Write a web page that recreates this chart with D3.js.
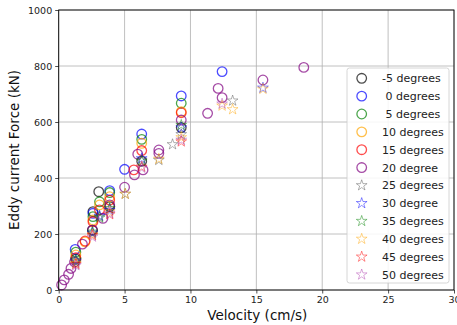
<!DOCTYPE html>
<html><head><meta charset="utf-8">
<script src="https://d3js.org/d3.v7.min.js"></script>
<style>body{margin:0;background:#fff}svg{display:block}text{font-family:"DejaVu Sans",sans-serif}</style>
</head><body><svg id="c" width="457" height="325"></svg>
<script>
const xTicks=[0,5,10,15,20,25,30];
const yTicks=[0,200,400,600,800,1000];
const seriesNames=["-5 degrees"," 0 degrees"," 5 degrees","10 degrees","15 degrees","20 degree","25 degrees","30 degree","35 degrees","40 degrees","45 degrees","50 degrees"];
const seriesColors=["#000000","#0000ff","#008000","#ffa500","#ff0000","#800080","#555555","#0000ff","#008000","#ffa500","#ff0000","#b040b0"];
const seriesShapes=["circle","circle","circle","circle","circle","circle","star","star","star","star","star","star"];
const sM5=[[1.3,110],[2.56,214],[2.6,280],[3.04,351],[3.87,298],[6.3,460],[9.3,580]];
const s0=[[1.25,145],[2.6,274],[3.87,355],[5.0,431],[6.3,557],[9.3,693],[12.4,780]];
const s5=[[1.3,135],[2.6,262],[3.1,315],[3.87,348],[6.3,538],[9.3,667]];
const s10=[[1.3,125],[2.0,172],[2.6,250],[3.1,304],[3.87,333],[6.3,524],[9.3,637]];
const s15=[[1.3,115],[2.0,175],[2.6,244],[3.1,286],[3.87,321],[5.7,429],[6.3,498],[9.3,633]];
const s20=[[0.22,18],[0.42,36],[0.75,56],[0.93,77],[1.2,100],[1.8,164],[2.56,214],[3.36,256],[3.87,304],[5.0,367],[5.75,411],[6.0,485],[6.4,429],[7.6,500],[7.6,488],[9.3,607],[11.3,631],[12.1,720],[12.4,687],[15.5,750],[18.6,795]];
const s25=[[1.3,100],[2.56,202],[3.1,262],[3.87,290],[5.05,343],[6.3,464],[7.6,464],[8.64,520],[9.3,556],[13.2,676]];
const s30=[[1.3,105],[2.56,205],[3.1,265],[3.87,285],[6.3,470],[9.3,580],[15.5,722]];
const s35=[[1.3,108],[2.56,208],[3.1,258],[3.87,292],[6.3,460],[9.3,589]];
const s40=[[1.3,95],[2.56,198],[3.87,280],[5.05,343],[7.6,468],[9.3,545],[12.4,658],[13.2,645],[15.5,718]];
const s45=[[1.3,92],[2.56,195],[3.87,270],[6.3,440],[9.3,530]];
const s50=[[1.3,88],[2.56,190],[3.87,274],[6.3,436],[9.3,536],[12.4,665]];
const seriesData=[sM5,s0,s5,s10,s15,s20,s25,s30,s35,s40,s45,s50];

const svg=d3.select("#c");
const L=58.7,R=454,T=10,B=290;
const x=d3.scaleLinear().domain([0,30]).range([L,R]);
const y=d3.scaleLinear().domain([0,1000]).range([B,T]);

svg.append("g").selectAll("line").data(xTicks).join("line")
 .attr("x1",d=>x(d)).attr("x2",d=>x(d)).attr("y1",T).attr("y2",B)
 .attr("stroke","#b0b0b0").attr("stroke-width",0.8);
svg.append("g").selectAll("line").data(yTicks).join("line")
 .attr("x1",L).attr("x2",R).attr("y1",d=>y(d)).attr("y2",d=>y(d))
 .attr("stroke","#b0b0b0").attr("stroke-width",0.8);

const starSym=d3.symbol().type(d3.symbolStar).size(36);
const circleR=4.8;
function drawMarker(g,shape,color,px,py){
  if(shape==="circle"){
    g.append("circle").attr("cx",px).attr("cy",py).attr("r",circleR)
     .attr("fill","none").attr("stroke",color).attr("stroke-width",1.3).attr("stroke-opacity",0.7);
  } else {
    g.append("path").attr("d",starSym()).attr("transform",`translate(${px},${py})`)
     .attr("fill","none").attr("stroke",color).attr("stroke-width",0.9).attr("stroke-opacity",0.5);
  }
}
const plot=svg.append("g");
seriesData.forEach((data,i)=>{
  const g=plot.append("g");
  data.forEach(d=>drawMarker(g,seriesShapes[i],seriesColors[i],x(d[0]),y(d[1])));
});

const xa=svg.append("g").attr("transform",`translate(0,${B})`).call(d3.axisBottom(x).tickValues(xTicks).tickFormat(d3.format("d")).tickSize(3.5).tickPadding(3));
const ya=svg.append("g").attr("transform",`translate(${L},0)`).call(d3.axisLeft(y).tickValues(yTicks).tickFormat(d3.format("d")).tickSize(3.5).tickPadding(3));
[xa,ya].forEach(a=>{a.select(".domain").remove();a.selectAll("text").attr("font-size","9.5px").attr("fill","#222").attr("font-family","DejaVu Sans");a.selectAll("line").attr("stroke","#222").attr("stroke-width",0.8);});
svg.append("rect").attr("x",L).attr("y",T).attr("width",R-L).attr("height",B-T).attr("fill","none").attr("stroke","#000").attr("stroke-width",0.9);

svg.append("text").attr("x",(L+R)/2+1).attr("y",320).attr("text-anchor","middle").attr("font-size","13.5px").attr("fill","#111").text("Velocity (cm/s)");
svg.append("text").attr("transform",`translate(19,${(T+B)/2}) rotate(-90)`).attr("text-anchor","middle").attr("font-size","13.5px").attr("fill","#111").text("Eddy current Force (kN)");

const lg=svg.append("g");
lg.append("rect").attr("x",347).attr("y",68).attr("width",102).attr("height",215).attr("rx",2.5)
 .attr("fill","#fff").attr("fill-opacity",0.85).attr("stroke","#ccc").attr("stroke-width",0.8);
seriesNames.forEach((n,i)=>{
  const yy=78.3+i*17.85;
  drawMarker(lg,seriesShapes[i],seriesColors[i],361.7,yy);
  lg.append("text").attr("x",382).attr("y",yy+4).attr("font-size","11px").attr("fill","#222").style("white-space","pre").text(n);
});
</script></body></html>
